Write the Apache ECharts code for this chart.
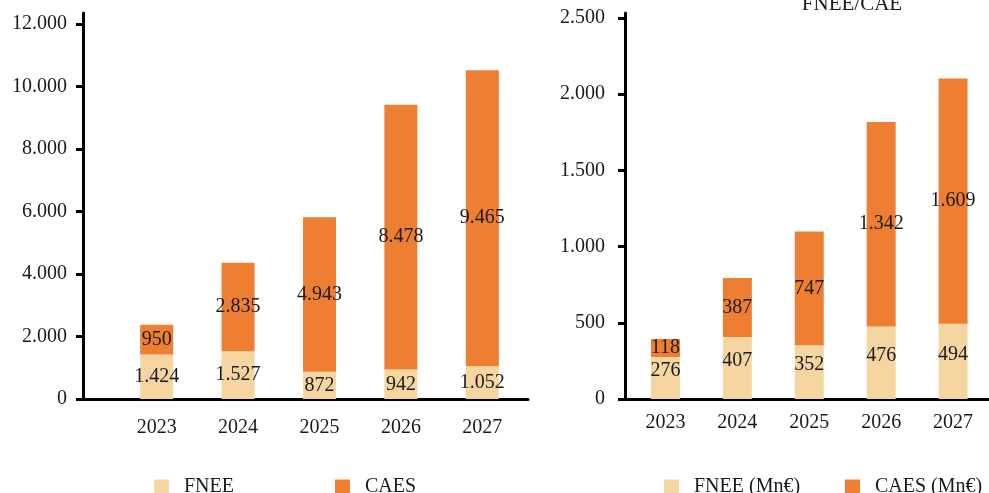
<!DOCTYPE html>
<html>
<head>
<meta charset="utf-8">
<script src="https://cdn.jsdelivr.net/npm/echarts@6/dist/echarts.min.js"></script>
<style>
html,body{margin:0;padding:0;background:#fff;}
#chart{width:989px;height:493px;}
</style>
</head>
<body>
<div id="chart"></div>
<script>
var years = ['2023', '2024', '2025', '2026', '2027'];
var fneeLeft = [1424, 1527, 872, 942, 1052];
var caesLeft = [950, 2835, 4943, 8478, 9465];
var fneeRight = [276, 407, 352, 476, 494];
var caesRight = [118, 387, 747, 1342, 1609];
var rightTitle = 'FNEE/CAE';

var FONT = "'Liberation Serif', 'Times New Roman', serif";
var TXT = '#1a1a1a';
var C_FNEE = '#F5D5A0';
var C_CAES = '#ED7E32';

function fmt(v) {
  return String(v).replace(/\B(?=(\d{3})+(?!\d))/g, '.');
}

var chart = echarts.init(document.getElementById('chart'));

function frameX(gi) {
  return { type: 'value', gridIndex: gi, min: 0, max: 1, show: true,
    axisLine: { show: true, lineStyle: { color: '#000', width: 3 } },
    axisTick: { show: false }, axisLabel: { show: false }, splitLine: { show: false } };
}
function frameY(gi) {
  return { type: 'value', gridIndex: gi, min: 0, max: 1,
    axisLine: { show: true, lineStyle: { color: '#000', width: 3 } },
    axisTick: { show: false }, axisLabel: { show: false }, splitLine: { show: false } };
}
function catX(gi, margin) {
  return { type: 'category', gridIndex: gi, data: years,
    axisLine: { show: false }, axisTick: { show: false }, splitLine: { show: false },
    axisLabel: { color: TXT, fontFamily: FONT, fontSize: 20, margin: margin } };
}
function valY(gi, max, interval, offset, margin) {
  return { type: 'value', gridIndex: gi, min: 0, max: max, interval: interval, offset: offset,
    axisLine: { show: false },
    axisTick: { show: true, length: 7, lineStyle: { color: '#000', width: 3 } },
    splitLine: { show: false },
    axisLabel: { color: TXT, fontFamily: FONT, fontSize: 20, margin: margin,
      formatter: function (v) { return fmt(v); } } };
}
function barSeries(name, data, xi, yi, color, width, stack, offset) {
  return { name: name, type: 'bar', stack: stack, xAxisIndex: xi, yAxisIndex: yi,
    data: data, barWidth: width, itemStyle: { color: color },
    label: { show: true, position: 'inside', offset: offset || [0, 0], color: TXT,
      fontFamily: FONT, fontSize: 20, formatter: function (p) { return fmt(p.value); } } };
}
function legend(name, left) {
  return { data: [name], left: left, top: 472, itemWidth: 15, itemHeight: 15,
    icon: 'rect', selectedMode: false,
    textStyle: { color: TXT, fontFamily: FONT, fontSize: 20, padding: [0, 0, 0, 10] } };
}

chart.setOption({
  animation: false,
  backgroundColor: '#fff',
  title: { text: rightTitle, left: 847, textAlign: 'center', top: -11,
    textStyle: { color: TXT, fontFamily: FONT, fontSize: 21, fontWeight: 'normal' } },
  grid: [
    { left: 83, right: 461, top: 13, bottom: 94 },
    { left: 116, right: 466, top: 24, bottom: 94 },
    { left: 625, right: -5, top: 13, bottom: 94 },
    { left: 629.5, right: 0, top: 18, bottom: 94 }
  ],
  xAxis: [frameX(0), catX(1, 19), frameX(2), catX(3, 14)],
  yAxis: [frameY(0), valY(1, 12000, 2000, 33, 16), frameY(2), valY(3, 2500, 500, 4.5, 20)],
  legend: [legend('FNEE', 149), legend('CAES', 330), legend('FNEE (Mn€)', 659), legend('CAES (Mn€)', 840)],
  series: [
    barSeries('FNEE', fneeLeft, 1, 1, C_FNEE, 33, 'L'),
    barSeries('CAES', caesLeft, 1, 1, C_CAES, 33, 'L'),
    barSeries('FNEE (Mn€)', fneeRight, 3, 3, C_FNEE, 29, 'R', [0, -7]),
    barSeries('CAES (Mn€)', caesRight, 3, 3, C_CAES, 29, 'R')
  ]
});
</script>
</body>
</html>
